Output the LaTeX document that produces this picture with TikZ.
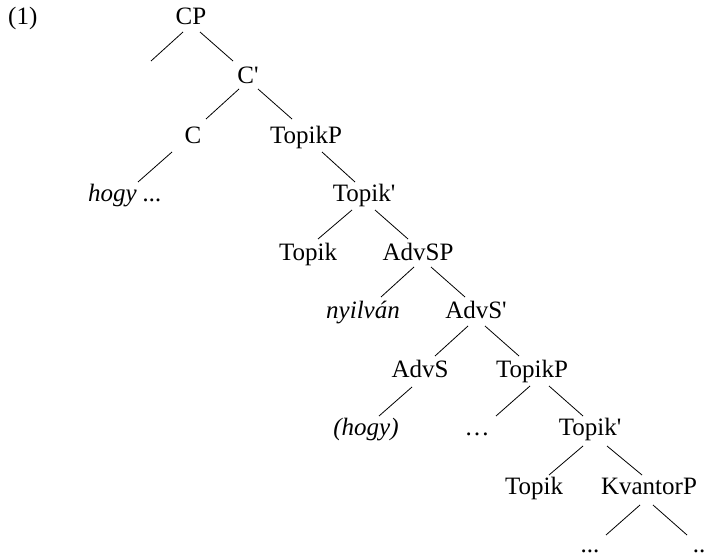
\documentclass[tikz,border=0pt]{standalone}
\usepackage{fontspec}
\setmainfont{Liberation Serif}
\begin{document}
\begin{tikzpicture}[x=1pt,y=-1pt,
  lab/.style={anchor=base,inner sep=0pt,font=\fontsize{25}{30}\selectfont},
  br/.style={line width=0.8pt}]
\useasboundingbox[fill=white] (0,0) rectangle (708,556);
\node[lab,anchor=base west] (ex) at (8,25) {(1)};
\node[lab] (cp) at (191,25) {CP};
\node[lab] (cbar) at (248,84) {C\textquotesingle};
\node[lab] (c) at (193,143) {C};
\node[lab] (tp1) at (306,143) {TopikP};
\node[lab] (hogy) at (125,201) {\textit{hogy ...}};
\node[lab] (tbar1) at (364,201) {Topik\textquotesingle};
\node[lab] (t1) at (308,260) {Topik};
\node[lab] (asp) at (418,260) {AdvSP};
\node[lab] (nyil) at (363,318) {\textit{nyilván}};
\node[lab] (asbar) at (476,318) {AdvS\textquotesingle};
\node[lab] (as) at (420,377) {AdvS};
\node[lab] (tp2) at (532,377) {TopikP};
\node[lab] (hogy2) at (366,435) {\textit{(hogy)}};
\node[lab] (dots1) at (477,435) {…};
\node[lab] (tbar2) at (590,435) {Topik\textquotesingle};
\node[lab] (t2) at (534,494) {Topik};
\node[lab] (kp) at (649,494) {KvantorP};
\node[lab] (dots2) at (590,552) {...};
\node[lab] (dots3) at (699,552) {..};
% branch end points
\coordinate (a1) at (183,32); \coordinate (a2) at (151,61);
\coordinate (b1) at (200,32); \coordinate (b2) at (233,61);
\coordinate (c1) at (239,89); \coordinate (c2) at (206,119);
\coordinate (d1) at (258,89); \coordinate (d2) at (292,119);
\coordinate (e1) at (172,152); \coordinate (e2) at (138,182);
\coordinate (f1) at (322,152); \coordinate (f2) at (355,182);
\coordinate (g1) at (352,210); \coordinate (g2) at (318,239);
\coordinate (h1) at (375,210); \coordinate (h2) at (408,239);
\coordinate (i1) at (414,267); \coordinate (i2) at (381,297);
\coordinate (j1) at (431,267); \coordinate (j2) at (465,297);
\coordinate (k1) at (468,326); \coordinate (k2) at (435,356);
\coordinate (l1) at (485,326); \coordinate (l2) at (519,356);
\coordinate (m1) at (412,387); \coordinate (m2) at (379,416);
\coordinate (n1) at (530,386); \coordinate (n2) at (496,416);
\coordinate (o1) at (549,386); \coordinate (o2) at (583,416);
\coordinate (p1) at (583,446); \coordinate (p2) at (549,475);
\coordinate (q1) at (607,446); \coordinate (q2) at (642,475);
\coordinate (r1) at (640,505); \coordinate (r2) at (606,535);
\coordinate (s1) at (653,505); \coordinate (s2) at (687,535);
\foreach \u in {a,b,c,d,e,f,g,h,i,j,k,l,m,n,o,p,q,r,s}
  \draw[br] (\u1) -- (\u2);
\end{tikzpicture}
\end{document}
